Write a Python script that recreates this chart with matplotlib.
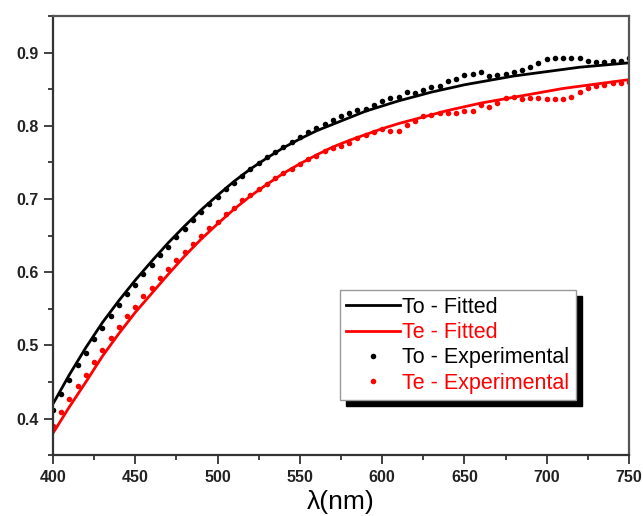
import matplotlib
matplotlib.use("Agg")
import matplotlib.pyplot as plt
from matplotlib.patches import Rectangle
from matplotlib.ticker import MultipleLocator

plt.rcParams['font.family'] = ['Liberation Sans', 'DejaVu Sans']

# fitted curves, every 10 nm
fit_wl = list(range(400, 751, 10))
to_fit = [0.420, 0.460, 0.497, 0.531, 0.561, 0.589, 0.615, 0.640, 0.663, 0.685,
          0.705, 0.724, 0.741, 0.756, 0.770, 0.782, 0.793, 0.802, 0.811, 0.820,
          0.827, 0.834, 0.840, 0.846, 0.851, 0.856, 0.860, 0.864, 0.868, 0.871,
          0.874, 0.877, 0.880, 0.882, 0.884, 0.886]
te_fit = [0.380, 0.416, 0.450, 0.485, 0.516, 0.545, 0.571, 0.597, 0.622, 0.645,
          0.666, 0.686, 0.704, 0.720, 0.735, 0.748, 0.760, 0.771, 0.780, 0.788,
          0.796, 0.803, 0.809, 0.815, 0.821, 0.826, 0.831, 0.835, 0.839, 0.843,
          0.847, 0.851, 0.854, 0.857, 0.860, 0.863]

# experimental points, every 5 nm
exp_wl = list(range(400, 751, 5))
to_exp = [0.412, 0.434, 0.453, 0.473, 0.490, 0.508, 0.524, 0.540, 0.555, 0.570,
          0.583, 0.597, 0.610, 0.623, 0.635, 0.648, 0.659, 0.671, 0.682, 0.693,
          0.702, 0.713, 0.722, 0.731, 0.741, 0.749, 0.757, 0.764, 0.771, 0.778,
          0.784, 0.791, 0.797, 0.803, 0.808, 0.813, 0.818, 0.822, 0.823, 0.829,
          0.834, 0.838, 0.840, 0.846, 0.845, 0.849, 0.853, 0.855, 0.861, 0.864,
          0.869, 0.871, 0.874, 0.868, 0.869, 0.871, 0.873, 0.876, 0.880, 0.886,
          0.891, 0.892, 0.892, 0.892, 0.893, 0.889, 0.887, 0.887, 0.888, 0.889,
          0.893]
te_exp = [0.390, 0.409, 0.426, 0.444, 0.460, 0.477, 0.494, 0.510, 0.525, 0.540,
          0.553, 0.567, 0.579, 0.592, 0.604, 0.616, 0.627, 0.639, 0.649, 0.660,
          0.669, 0.680, 0.688, 0.698, 0.705, 0.714, 0.721, 0.728, 0.735, 0.741,
          0.748, 0.754, 0.759, 0.765, 0.769, 0.772, 0.777, 0.783, 0.788, 0.792,
          0.795, 0.793, 0.793, 0.801, 0.806, 0.813, 0.815, 0.817, 0.817, 0.817,
          0.820, 0.820, 0.829, 0.826, 0.831, 0.838, 0.840, 0.837, 0.838, 0.838,
          0.837, 0.837, 0.837, 0.840, 0.846, 0.852, 0.854, 0.856, 0.858, 0.858,
          0.860]

fig = plt.figure(figsize=(6.43, 5.16), dpi=100)
ax = fig.add_axes([0.0824, 0.118, 0.8958, 0.851])

ax.plot(fit_wl, to_fit, color='black', lw=2.0, label='To - Fitted')
ax.plot(fit_wl, te_fit, color='red', lw=2.0, label='Te - Fitted')
ax.plot(exp_wl, to_exp, 'o', color='black', ms=4, mec='none', label='To - Experimental')
ax.plot(exp_wl, te_exp, 'o', color='red', ms=4, mec='none', label='Te - Experimental')

ax.set_xlim(400, 750)
ax.set_ylim(0.35, 0.95)
ax.xaxis.set_major_locator(MultipleLocator(50))
ax.xaxis.set_minor_locator(MultipleLocator(25))
ax.yaxis.set_minor_locator(MultipleLocator(0.05))
ax.set_yticks([0.4, 0.5, 0.6, 0.7, 0.8, 0.9])
ax.set_yticklabels(['0.4', '0.5', '0.6', '0.7', '0.8', '0.9'])

ax.tick_params(which='both', direction='out', top=False, right=False, width=1.3, color='#333333')
ax.tick_params(which='major', length=6.5, labelsize=11.5, pad=4)
ax.tick_params(which='minor', length=3.5)
for lab in ax.get_xticklabels() + ax.get_yticklabels():
    lab.set_fontweight('bold')
    lab.set_color('#222222')

for side in ['left', 'bottom']:
    ax.spines[side].set_linewidth(1.6)
    ax.spines[side].set_color('#333333')
for side in ['top', 'right']:
    ax.spines[side].set_linewidth(1.6)
    ax.spines[side].set_color('#555555')

ax.set_xlabel('λ(nm)', fontsize=19, labelpad=4)

leg = ax.legend(loc='lower left', bbox_to_anchor=(0.498, 0.125), fontsize=15.5,
                frameon=True, fancybox=False, edgecolor='#999999', framealpha=1,
                handlelength=2.5, handletextpad=0.1, labelspacing=0.2,
                borderpad=0.3, borderaxespad=0, markerscale=1.0)
leg.get_frame().set_linewidth(1.0)
for txt, c in zip(leg.get_texts(), ['black', 'red', 'black', 'red']):
    txt.set_color(c)

# black drop shadow behind the legend box
fig.canvas.draw()
bb = leg.get_window_extent().transformed(ax.transAxes.inverted())
dx = 6 / (ax.bbox.width)
dy = 6 / (ax.bbox.height)
ax.add_patch(Rectangle((bb.x0 + dx, bb.y0 - dy), bb.width, bb.height,
                       transform=ax.transAxes, color='black', zorder=4.9, clip_on=False))

fig.savefig('out.png', dpi=100)
